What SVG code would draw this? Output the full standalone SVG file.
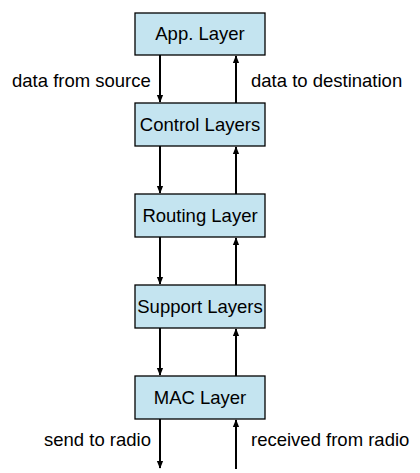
<svg xmlns="http://www.w3.org/2000/svg" width="420" height="473" viewBox="0 0 420 473">
<style>
.box{fill:#c4e4f0;stroke:#000;stroke-width:1.3}
.t{font-family:"Liberation Sans",Arial,sans-serif;font-size:18.5px;fill:#000}
.c{text-anchor:middle}
.a{stroke:#000;stroke-width:2;fill:none;marker-end:url(#h)}
</style>
<defs>
<marker id="h" viewBox="0 0 10 10" refX="9" refY="5" markerWidth="4" markerHeight="4" orient="auto" markerUnits="strokeWidth">
<path d="M0,1 L10,5 L0,9 z" fill="#000"/>
</marker>
</defs>
<rect width="420" height="473" fill="#fff"/>
<g id="app"><rect class="box" x="135" y="13" width="130" height="42"/><text class="t c" x="200" y="40">App. Layer</text></g>
<g id="control"><rect class="box" x="135" y="103" width="130" height="43"/><text class="t c" x="200" y="131">Control Layers</text></g>
<g id="routing"><rect class="box" x="135" y="194" width="130" height="43"/><text class="t c" x="200" y="222">Routing Layer</text></g>
<g id="support"><rect class="box" x="135" y="285" width="130" height="43"/><text class="t c" x="200" y="313">Support Layers</text></g>
<g id="mac"><rect class="box" x="135" y="376" width="130" height="43"/><text class="t c" x="200" y="404">MAC Layer</text></g>
<g id="connectors">
<line class="a" x1="160" y1="55" x2="160" y2="102"/>
<line class="a" x1="236" y1="103" x2="236" y2="56"/>
<line class="a" x1="160" y1="146" x2="160" y2="193"/>
<line class="a" x1="236" y1="194" x2="236" y2="147"/>
<line class="a" x1="160" y1="237" x2="160" y2="284"/>
<line class="a" x1="236" y1="285" x2="236" y2="238"/>
<line class="a" x1="160" y1="328" x2="160" y2="375"/>
<line class="a" x1="236" y1="376" x2="236" y2="329"/>
<line class="a" x1="160" y1="419" x2="160" y2="468"/>
<line class="a" x1="236" y1="469" x2="236" y2="420"/>
</g>
<g id="labels">
<text class="t" x="12" y="87">data from source</text>
<text class="t" x="251" y="87">data to destination</text>
<text class="t" x="44" y="446">send to radio</text>
<text class="t" x="251" y="446">received from radio</text>
</g>
</svg>
